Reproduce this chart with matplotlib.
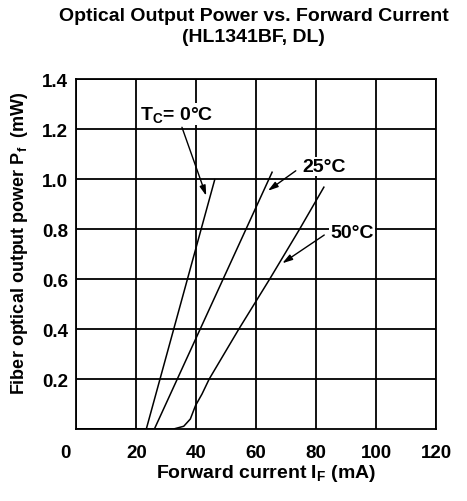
import matplotlib
matplotlib.use("Agg")
import matplotlib.pyplot as plt
import matplotlib.transforms as mtransforms

plt.rcParams['font.family'] = ['Liberation Sans', 'DejaVu Sans']
plt.rcParams['font.weight'] = 'bold'
plt.rcParams['axes.labelweight'] = 'bold'
plt.rcParams['mathtext.fontset'] = 'custom'
plt.rcParams['mathtext.rm'] = 'Liberation Sans:bold'
plt.rcParams['mathtext.it'] = 'Liberation Sans:italic:bold'

# forward current (mA) vs fiber output power (mW)
if_0c = [0, 23.3, 46.2]
pf_0c = [0, 0, 1.0]
if_25c = [0, 26.0, 65.4]
pf_25c = [0, 0, 1.03]
if_50c = [0, 32.4, 35.8, 38.0, 39.7, 41.9, 44.3, 54.2, 64.5, 74.5, 82.7]
pf_50c = [0, 0, 0.011, 0.04, 0.093, 0.14, 0.2, 0.4, 0.6, 0.8, 0.97]

x_ticks = [0, 20, 40, 60, 80, 100, 120]
y_ticks = [0.2, 0.4, 0.6, 0.8, 1.0, 1.2, 1.4]

fig = plt.figure(figsize=(4.67, 5.02), dpi=100)
ax = fig.add_axes([0.1638, 0.1434, 0.7698, 0.6972])

for x, y in [(if_0c, pf_0c), (if_25c, pf_25c), (if_50c, pf_50c)]:
    ax.plot(x, y, color='black', lw=1.1, solid_capstyle='butt')

ax.set_xlim(0, 120)
ax.set_ylim(0, 1.4)
ax.set_xticks(x_ticks)
ax.set_yticks(y_ticks)
ax.set_yticklabels(['%.1f' % v for v in y_ticks])
ax.tick_params(length=0, labelsize=13.5, pad=6)
ax.tick_params(axis='x', pad=11)
ax.grid(True, color='black', lw=1.3)
for s in ax.spines.values():
    s.set_linewidth(1.3)

# origin label sits at the corner, a bit left of the axis
lbl0 = ax.get_xticklabels()[0]
lbl0.set_transform(lbl0.get_transform() + mtransforms.ScaledTranslation(-0.11, 0, fig.dpi_scale_trans))

ax.set_xlabel('Forward current I$_{\\rm F}$ (mA)', fontsize=14)
ax.xaxis.set_label_coords(0.528, -0.093)
ax.set_ylabel('Fiber optical output power P$_{\\rm f}$  (mW)', fontsize=13)
ax.yaxis.set_label_coords(-0.13, 0.535)

fig.text(0.543, 0.968, 'Optical Output Power vs. Forward Current', ha='center', va='center', fontsize=14)
fig.text(0.543, 0.925, '(HL1341BF, DL)', ha='center', va='center', fontsize=14)

box = dict(facecolor='white', edgecolor='none', pad=1)
ax.text(21.3, 1.26, 'T$_{\\rm C}$= 0°C', ha='left', va='center', fontsize=14, bbox=box)
ax.text(82.6, 1.05, '25°C', ha='center', va='center', fontsize=14, bbox=box)
ax.text(92, 0.787, '50°C', ha='center', va='center', fontsize=14, bbox=box)

arrow = dict(arrowstyle='-|>,head_length=0.6,head_width=0.18', color='black', lw=1.0, shrinkA=0, shrinkB=0)
ax.annotate('', xy=(43.3, 0.933), xytext=(35.2, 1.207), arrowprops=arrow)
ax.annotate('', xy=(63.9, 0.953), xytext=(73.2, 1.033), arrowprops=arrow)
ax.annotate('', xy=(68.7, 0.663), xytext=(82.7, 0.776), arrowprops=arrow)

fig.savefig('out.png', dpi=100)
